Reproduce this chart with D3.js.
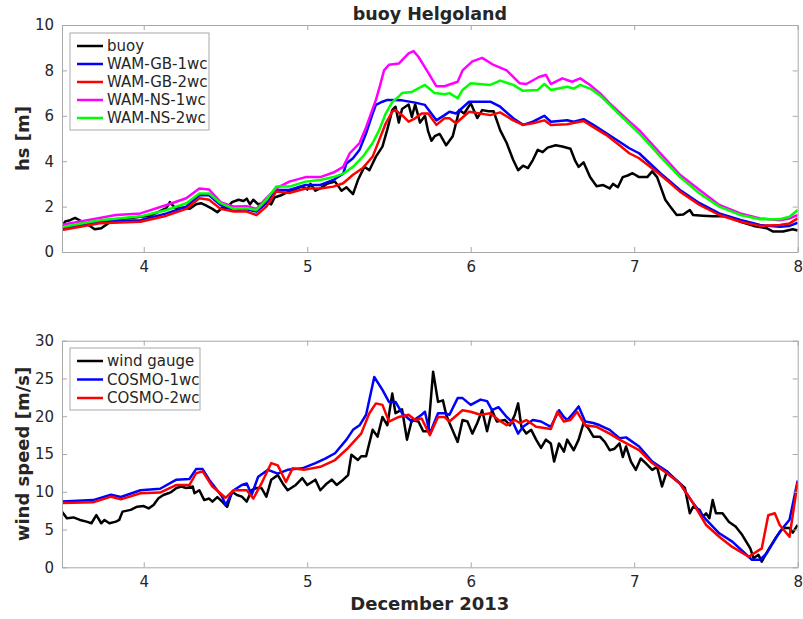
<!DOCTYPE html>
<html><head><meta charset="utf-8">
<script src="https://cdn.jsdelivr.net/npm/d3@7"></script>
<style>
body{margin:0;background:#fff;}
text{font-family:"DejaVu Sans",sans-serif;fill:#262626;}
</style></head>
<body>
<svg id="c" width="803" height="619"></svg>
<script>
// ---------------- DATA ----------------
const chartTitle = "buoy Helgoland";
const xLabel = "December 2013";
const xTicks = [4, 5, 6, 7, 8];
const hsTicks = [0, 2, 4, 6, 8, 10];
const windTicks = [0, 5, 10, 15, 20, 25, 30];
const hsSeriesNames = ["buoy", "WAM-GB-1wc", "WAM-GB-2wc", "WAM-NS-1wc", "WAM-NS-2wc"];
const windSeriesNames = ["wind gauge", "COSMO-1wc", "COSMO-2wc"];

const buoyT = [3.5,3.52,3.55,3.58,3.62,3.66,3.7,3.74,3.78,3.82,3.86,3.92,3.98,4.04,4.1,4.14,4.16,4.19,4.24,4.28,4.32,4.35,4.38,4.42,4.45,4.48,4.51,4.54,4.58,4.61,4.63,4.65,4.67,4.7,4.73,4.75,4.78,4.8,4.84,4.87,4.9,4.94,4.97,5.0,5.02,5.05,5.08,5.12,5.17,5.21,5.24,5.28,5.31,5.35,5.38,5.4,5.42,5.46,5.49,5.52,5.54,5.56,5.58,5.62,5.64,5.66,5.69,5.72,5.74,5.76,5.78,5.81,5.85,5.89,5.93,5.96,6.0,6.04,6.07,6.11,6.14,6.18,6.22,6.26,6.29,6.32,6.35,6.38,6.41,6.44,6.47,6.52,6.56,6.61,6.64,6.66,6.69,6.73,6.77,6.81,6.85,6.87,6.9,6.93,6.96,6.99,7.03,7.08,7.11,7.14,7.16,7.19,7.22,7.26,7.3,7.34,7.36,7.42,7.48,7.57,7.65,7.73,7.81,7.85,7.91,7.97,8.0];
const buoyHs = [1.1,1.35,1.4,1.5,1.35,1.2,1.0,1.05,1.25,1.4,1.45,1.5,1.55,1.6,1.8,1.95,2.2,1.95,1.95,1.9,2.1,2.15,2.05,1.9,1.75,1.95,1.95,2.2,2.3,2.25,2.35,2.1,2.3,2.1,2.15,2.2,2.1,2.4,2.5,2.6,2.7,2.8,2.9,2.75,3.0,2.7,2.8,3.0,3.1,2.7,2.85,2.55,3.17,3.76,3.6,3.9,4.2,4.64,5.4,6.25,6.4,5.7,6.3,6.5,5.95,6.5,5.7,6.0,5.3,4.9,5.1,5.2,4.7,5.1,6.25,6.1,6.55,5.9,6.25,6.2,6.2,5.37,4.8,4.05,3.6,3.8,3.7,4.05,4.5,4.4,4.6,4.7,4.65,4.55,4.0,3.75,3.95,3.3,2.9,2.95,2.8,3.0,2.85,3.3,3.37,3.47,3.3,3.3,3.55,3.3,2.9,2.3,2.0,1.63,1.65,1.85,1.63,1.6,1.57,1.57,1.33,1.15,1.05,0.9,0.9,1.0,0.95];

const gb1T = [3.5,3.73,3.98,4.14,4.26,4.34,4.4,4.47,4.55,4.63,4.69,4.75,4.81,4.89,4.99,5.08,5.16,5.22,5.24,5.28,5.32,5.36,5.4,5.42,5.46,5.49,5.58,5.66,5.72,5.79,5.84,5.87,5.91,5.99,6.12,6.18,6.26,6.32,6.38,6.45,6.49,6.59,6.63,6.69,6.75,6.83,6.91,6.97,7.03,7.16,7.28,7.4,7.52,7.65,7.77,7.89,7.95,8.0];
const gb1Hs = [1.05,1.33,1.4,1.7,2.0,2.5,2.5,2.07,1.85,1.88,1.78,2.15,2.73,2.73,2.95,2.95,3.17,3.45,3.9,4.13,4.5,5.23,6.1,6.48,6.62,6.7,6.68,6.58,6.48,5.8,6.03,6.18,6.1,6.62,6.62,6.4,5.89,5.6,5.74,6.0,5.74,5.8,5.74,5.85,5.6,5.23,4.86,4.57,4.35,3.47,2.73,2.15,1.7,1.41,1.19,1.11,1.15,1.29];

const gb2T = [3.5,3.73,3.98,4.14,4.26,4.34,4.4,4.47,4.55,4.63,4.69,4.75,4.81,4.89,4.99,5.08,5.16,5.22,5.28,5.34,5.4,5.44,5.48,5.52,5.54,5.58,5.62,5.66,5.7,5.74,5.79,5.84,5.87,5.91,5.99,6.12,6.18,6.26,6.32,6.38,6.45,6.49,6.59,6.69,6.75,6.83,6.91,6.97,7.03,7.16,7.28,7.4,7.52,7.65,7.77,7.89,7.95,8.0];
const gb2Hs = [0.97,1.27,1.33,1.6,1.9,2.37,2.3,1.9,1.78,1.78,1.63,2.0,2.66,2.6,2.8,2.8,2.88,3.03,3.4,3.7,4.2,4.93,5.66,6.18,6.25,6.03,5.74,5.89,6.1,6.1,5.6,5.89,5.89,5.67,6.18,6.03,6.15,5.8,5.6,5.67,5.8,5.6,5.63,5.77,5.5,5.15,4.7,4.35,4.13,3.4,2.66,2.07,1.63,1.33,1.15,1.19,1.26,1.48];

const ns1T = [3.5,3.73,3.83,3.98,4.14,4.26,4.34,4.4,4.47,4.55,4.63,4.69,4.75,4.81,4.89,4.99,5.08,5.16,5.22,5.26,5.32,5.36,5.42,5.44,5.47,5.5,5.56,5.62,5.65,5.68,5.74,5.79,5.84,5.92,5.95,6.01,6.07,6.14,6.22,6.3,6.34,6.42,6.46,6.49,6.56,6.62,6.67,6.73,6.79,6.85,6.91,6.97,7.03,7.16,7.28,7.4,7.52,7.65,7.77,7.89,7.95,8.0];
const ns1Hs = [1.2,1.5,1.63,1.7,2.07,2.37,2.8,2.75,2.2,2.0,2.02,1.9,2.37,2.8,3.1,3.3,3.3,3.5,3.75,4.35,4.8,5.5,6.7,7.2,8.0,8.25,8.3,8.75,8.85,8.6,7.9,7.3,7.3,7.5,8.0,8.4,8.55,8.24,8.0,7.43,7.4,7.72,7.8,7.4,7.65,7.5,7.65,7.36,7.0,6.55,6.15,5.75,5.37,4.35,3.4,2.73,2.07,1.7,1.48,1.4,1.48,1.63];

const ns2T = [3.5,3.73,3.98,4.14,4.26,4.34,4.4,4.47,4.55,4.63,4.69,4.75,4.81,4.89,4.99,5.08,5.16,5.22,5.28,5.34,5.4,5.44,5.48,5.52,5.56,5.58,5.64,5.72,5.78,5.84,5.87,5.92,5.95,6.0,6.12,6.18,6.26,6.32,6.41,6.45,6.49,6.59,6.63,6.67,6.73,6.79,6.85,6.91,6.97,7.03,7.16,7.28,7.4,7.52,7.65,7.77,7.89,7.95,8.0];
const ns2Hs = [1.1,1.4,1.57,1.85,2.15,2.58,2.58,2.15,1.9,1.93,1.85,2.3,2.88,2.88,3.1,3.17,3.3,3.45,3.75,4.2,4.8,5.37,6.1,6.6,6.85,7.0,7.05,7.36,7.0,6.95,7.0,6.77,7.14,7.43,7.36,7.55,7.36,7.1,7.14,7.4,7.14,7.28,7.2,7.36,7.2,6.9,6.48,6.05,5.65,5.23,4.2,3.3,2.58,2.0,1.63,1.44,1.44,1.55,1.85];

const gaugeT = [3.5,3.53,3.57,3.61,3.65,3.68,3.71,3.74,3.76,3.79,3.83,3.85,3.87,3.92,3.96,4.0,4.03,4.06,4.09,4.12,4.15,4.17,4.2,4.23,4.26,4.3,4.31,4.34,4.37,4.4,4.42,4.45,4.48,4.51,4.54,4.57,4.6,4.63,4.66,4.69,4.72,4.75,4.78,4.82,4.85,4.88,4.93,4.97,5.0,5.05,5.08,5.12,5.15,5.18,5.22,5.25,5.27,5.31,5.33,5.36,5.4,5.43,5.46,5.49,5.52,5.54,5.58,5.61,5.64,5.68,5.71,5.74,5.77,5.8,5.83,5.85,5.87,5.92,5.95,5.98,6.01,6.04,6.07,6.1,6.13,6.16,6.21,6.24,6.27,6.29,6.31,6.34,6.37,6.4,6.43,6.46,6.49,6.51,6.54,6.57,6.59,6.63,6.66,6.69,6.72,6.75,6.79,6.82,6.85,6.88,6.91,6.93,6.95,6.98,7.01,7.04,7.07,7.11,7.14,7.17,7.2,7.23,7.28,7.31,7.34,7.36,7.4,7.42,7.44,7.46,7.48,7.5,7.54,7.58,7.62,7.66,7.71,7.73,7.76,7.78,7.82,7.87,7.91,7.95,7.97,8.0];
const gaugeWs = [7.37,6.5,6.6,6.27,6.05,5.83,6.9,5.83,6.27,5.83,6.05,6.27,7.37,7.6,8.03,8.1,7.8,8.25,9.13,9.57,9.8,10.0,10.5,10.7,10.5,10.7,9.8,10.2,8.9,9.1,8.7,9.3,8.7,8.0,10.0,9.57,9.35,8.7,10.2,10.5,10.5,9.35,11.6,12.2,11.1,10.2,10.9,11.8,10.9,11.6,10.2,11.1,11.6,10.9,11.6,12.2,14.9,14.2,14.7,14.7,18.2,17.3,19.9,18.8,23.0,20.4,20.9,16.9,19.5,19.3,18.0,18.0,25.9,21.9,22.1,20.2,19.1,16.6,19.5,19.3,17.7,19.1,20.8,18.0,20.8,19.3,19.5,18.8,20.2,21.7,18.6,17.7,18.2,16.9,15.8,16.9,16.4,14.0,16.4,15.3,16.9,15.5,16.9,19.1,18.4,17.3,17.3,16.6,15.5,15.7,16.4,14.6,16.0,14.0,12.9,14.4,13.8,12.9,13.3,10.7,12.7,12.0,11.1,10.5,7.15,8.0,7.6,6.7,7.15,6.5,8.9,7.15,7.15,6.0,5.4,4.3,2.5,1.2,1.65,0.75,2.3,4.05,5.2,5.2,4.6,5.6];

const c1T = [3.5,3.69,3.8,3.86,3.98,4.1,4.2,4.28,4.32,4.36,4.4,4.48,4.5,4.55,4.6,4.63,4.66,4.7,4.76,4.82,4.88,4.97,5.05,5.11,5.17,5.24,5.28,5.32,5.36,5.41,5.46,5.5,5.54,5.58,5.64,5.7,5.72,5.75,5.8,5.84,5.87,5.92,5.95,6.0,6.06,6.1,6.13,6.17,6.22,6.26,6.29,6.32,6.38,6.43,6.49,6.54,6.57,6.59,6.62,6.66,6.7,6.75,6.79,6.85,6.91,6.95,7.03,7.11,7.2,7.28,7.36,7.44,7.52,7.6,7.69,7.72,7.77,7.81,7.89,7.95,8.0];
const c1Ws = [8.7,8.9,9.6,9.3,10.2,10.4,11.6,11.7,13.0,13.0,11.6,9.35,8.25,10.2,10.9,11.1,9.6,12.0,12.9,12.4,12.9,13.1,13.8,14.4,15.1,16.9,18.2,18.8,20.2,25.2,23.5,21.9,21.9,20.4,19.3,20.2,20.6,17.7,20.4,20.4,20.2,22.4,22.4,21.5,22.2,22.0,20.8,21.2,19.9,19.1,17.7,18.6,19.5,19.3,18.6,20.8,19.9,19.5,20.2,21.3,19.3,19.1,18.8,18.2,17.1,17.2,16.0,14.0,12.7,11.1,8.5,6.3,4.5,3.4,1.6,1.0,1.0,1.85,4.7,6.3,11.5];

const c2T = [3.5,3.69,3.8,3.86,3.98,4.1,4.2,4.28,4.32,4.36,4.42,4.5,4.55,4.63,4.67,4.72,4.78,4.82,4.87,4.91,4.98,5.08,5.17,5.25,5.33,5.38,5.42,5.46,5.5,5.56,5.62,5.66,5.7,5.75,5.8,5.84,5.87,5.95,6.0,6.06,6.12,6.17,6.22,6.27,6.3,6.34,6.4,6.49,6.53,6.57,6.61,6.65,6.7,6.77,6.85,6.91,7.03,7.11,7.2,7.28,7.36,7.44,7.52,7.6,7.7,7.78,7.82,7.86,7.89,7.95,8.0];
const c2Ws = [8.5,8.6,9.35,9.0,9.8,9.9,10.9,10.9,12.45,12.7,10.7,9.2,10.2,10.2,9.1,11.1,13.8,13.5,11.3,13.1,12.9,13.3,14.2,15.8,17.7,20.4,21.7,21.5,19.3,19.9,20.2,19.5,19.7,17.5,19.9,19.9,19.3,20.8,20.6,20.2,20.4,19.5,18.8,19.5,19.1,19.5,18.6,18.3,20.6,19.3,19.5,20.6,18.8,18.6,17.7,16.9,15.5,13.8,12.45,11.1,8.5,5.6,4.05,2.7,1.4,2.5,6.9,7.15,5.6,4.05,11.3];

const hsColors = ["#000000", "#0000ff", "#ff0000", "#ff00ff", "#00ff00"];
const windColors = ["#000000", "#0000ff", "#ff0000"];

// ---------------- DRAW ----------------
const svg = d3.select("#c");
const L = 62, R = 797.7;
const x = d3.scaleLinear().domain([3.5, 8]).range([L, R]);
const axisCol = "#a8a8a8";

function panel(top, bottom, yMax, yTicks, yLabel, series, names, colors, legBox) {
  const y = d3.scaleLinear().domain([0, yMax]).range([bottom, top]);
  const g = svg.append("g");
  g.append("rect").attr("x", L).attr("y", top).attr("width", R - L).attr("height", bottom - top)
    .attr("fill", "#fff");
  const clipId = "clip" + Math.round(top);
  svg.append("clipPath").attr("id", clipId).append("rect")
    .attr("x", L).attr("y", top - 2).attr("width", R - L).attr("height", bottom - top + 4);
  const line = d3.line().x(d => x(d[0])).y(d => y(d[1]));
  const lg = g.append("g").attr("clip-path", `url(#${clipId})`);
  series.forEach((s, i) => {
    const pts = s[0].map((t, k) => [t, s[1][k]]);
    lg.append("path").datum(pts).attr("d", line).attr("fill", "none")
      .attr("stroke", colors[i]).attr("stroke-width", 2.5).attr("stroke-linejoin", "round");
  });
  // axes
  const ax = (a) => a.tickSizeInner(-5).tickSizeOuter(0);
  const gx = g.append("g").attr("transform", `translate(0,${bottom})`)
    .call(ax(d3.axisBottom(x).tickValues(xTicks).tickFormat(d3.format("d"))).tickPadding(9));
  const gxt = g.append("g").attr("transform", `translate(0,${top})`)
    .call(ax(d3.axisTop(x).tickValues(xTicks).tickFormat("")));
  const gy = g.append("g").attr("transform", `translate(${L},0)`)
    .call(ax(d3.axisLeft(y).tickValues(yTicks).tickFormat(d3.format("d"))).tickPadding(8));
  const gyr = g.append("g").attr("transform", `translate(${R},0)`)
    .call(ax(d3.axisRight(y).tickValues(yTicks).tickFormat("")));
  [gx, gxt, gy, gyr].forEach(a => {
    a.selectAll("path").attr("stroke", axisCol);
    a.selectAll("line").attr("stroke", axisCol);
    a.selectAll("text").style("font-family", "DejaVu Sans").style("font-size", "15px").attr("fill", "#262626");
  });
  // y label
  g.append("text").attr("transform", `translate(22,${(top + bottom) / 2}) rotate(-90)`)
    .attr("text-anchor", "middle").attr("dominant-baseline", "central")
    .style("font-size", "18px").style("font-weight", "bold").text(yLabel);
  // legend
  const leg = g.append("g");
  leg.append("rect").attr("x", legBox[0]).attr("y", legBox[1]).attr("width", legBox[2]).attr("height", legBox[3])
    .attr("fill", "#fff").attr("stroke", axisCol).attr("stroke-width", 1);
  names.forEach((n, i) => {
    const yy = legBox[1] + 13 + i * legBox[4];
    leg.append("line").attr("x1", legBox[0] + 7).attr("x2", legBox[0] + 33).attr("y1", yy).attr("y2", yy)
      .attr("stroke", colors[i]).attr("stroke-width", 2.5);
    leg.append("text").attr("x", legBox[0] + 37).attr("y", yy).attr("dominant-baseline", "central")
      .style("font-size", "15px").text(n);
  });
  return y;
}

panel(25, 252, 10, hsTicks, "hs [m]",
  [[buoyT, buoyHs], [gb1T, gb1Hs], [gb2T, gb2Hs], [ns1T, ns1Hs], [ns2T, ns2Hs]],
  hsSeriesNames, hsColors, [70, 33, 139, 97, 18]);
panel(340.7, 567.3, 30, windTicks, "wind speed [m/s]",
  [[gaugeT, gaugeWs], [c1T, c1Ws], [c2T, c2Ws]],
  windSeriesNames, windColors, [70, 348, 130, 62, 18.5]);

svg.append("text").attr("x", (L + R) / 2).attr("y", 20).attr("text-anchor", "middle")
  .style("font-size", "17.5px").style("font-weight", "bold").text(chartTitle);
svg.append("text").attr("x", (L + R) / 2).attr("y", 610).attr("text-anchor", "middle")
  .style("font-size", "18px").style("font-weight", "bold").text(xLabel);
</script>
</body></html>
